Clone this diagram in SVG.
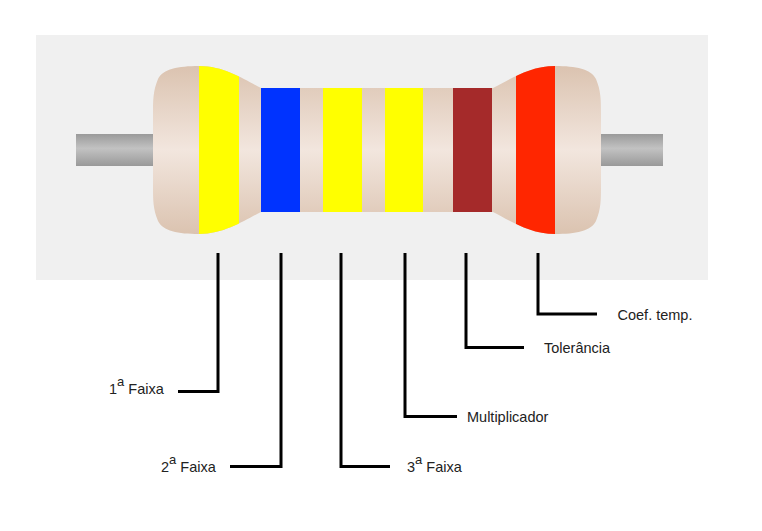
<svg xmlns="http://www.w3.org/2000/svg" width="762" height="531" viewBox="0 0 762 531">
<defs>
<linearGradient id="bodyGrad" gradientUnits="userSpaceOnUse" x1="0" y1="66" x2="0" y2="234">
<stop offset="0" stop-color="#DBC3B0"/>
<stop offset="0.5" stop-color="#F2E6DE"/>
<stop offset="1" stop-color="#DBC3B0"/>
</linearGradient>
<linearGradient id="leadGrad" x1="0" y1="0" x2="0" y2="1">
<stop offset="0" stop-color="#9A9A9A"/>
<stop offset="0.45" stop-color="#C2C2C2"/>
<stop offset="1" stop-color="#999999"/>
</linearGradient>
<clipPath id="bodyClip">
<path id="bodyShape" d="M 261,88 L 493,88 C 509,80 529,66 555,66 C 576,66 591,69 596,79 C 601,91 601,100 601,115 L 601,185 C 601,200 601,209 596,221 C 591,231 576,234 555,234 C 529,234 509,220 493,212 L 261,212 C 245,220 225,234 199,234 C 178,234 163,231 158,221 C 153,209 153,200 153,185 L 153,115 C 153,100 153,91 158,79 C 163,69 178,66 199,66 C 225,66 245,80 261,88 Z"/>
</clipPath>
</defs>
<style>
.conn{fill:none;stroke:#000;stroke-width:3;stroke-linecap:butt;stroke-linejoin:miter}
.lbl{font-family:"Liberation Sans",Arial,sans-serif;font-size:14.5px;fill:#222}
</style>
<rect x="0" y="0" width="762" height="531" fill="#FFFFFF"/>
<rect x="36" y="35" width="672" height="245" fill="#F0F0F0"/>
<g id="resistor">
<rect x="76" y="134" width="78" height="32" fill="url(#leadGrad)"/>
<rect x="600" y="134" width="63" height="32" fill="url(#leadGrad)"/>
<g clip-path="url(#bodyClip)">
<rect x="150" y="60" width="455" height="180" fill="url(#bodyGrad)"/>
<rect x="199" y="60" width="40" height="180" fill="#FFFF00"/>
<rect x="261" y="60" width="39" height="180" fill="#0033FF"/>
<rect x="323" y="60" width="39" height="180" fill="#FFFF00"/>
<rect x="385" y="60" width="38" height="180" fill="#FFFF00"/>
<rect x="453" y="60" width="39" height="180" fill="#A52A2A"/>
<rect x="516" y="60" width="39" height="180" fill="#FF2600"/>
</g>
</g>
<g id="connectors">
<polyline class="conn" points="218,253 218,391.5 178,391.5"/>
<polyline class="conn" points="281,253 281,466.5 230,466.5"/>
<polyline class="conn" points="341,253 341,466.5 390,466.5"/>
<polyline class="conn" points="405,253 405,416.5 457,416.5"/>
<polyline class="conn" points="466,253 466,347.5 524,347.5"/>
<polyline class="conn" points="538,253 538,314 597,314"/>
</g>
<g id="label-faixa1"><text class="lbl" x="109" y="393.5">1<tspan font-size="13" dy="-8">a</tspan><tspan dy="8"> Faixa</tspan></text></g>
<g id="label-faixa2"><text class="lbl" x="161" y="471.5">2<tspan font-size="13" dy="-8">a</tspan><tspan dy="8"> Faixa</tspan></text></g>
<g id="label-faixa3"><text class="lbl" x="407" y="471.5">3<tspan font-size="13" dy="-8">a</tspan><tspan dy="8"> Faixa</tspan></text></g>
<g id="label-mult"><text class="lbl" x="467" y="421.5">Multiplicador</text></g>
<g id="label-tol"><text class="lbl" x="544" y="353">Tolerância</text></g>
<g id="label-coef"><text class="lbl" x="617.5" y="320">Coef. temp.</text></g>
</svg>
